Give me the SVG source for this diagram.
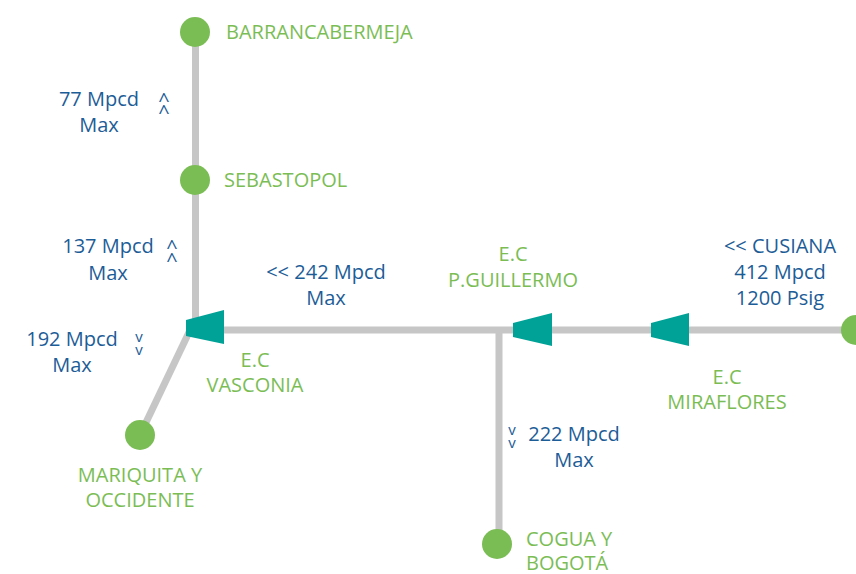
<svg xmlns="http://www.w3.org/2000/svg" width="856" height="574" viewBox="0 0 856 574">
<style>
.pipe{stroke:#c6c6c6;stroke-width:7;fill:none}
.valve{fill:#00a196}
.node{fill:#7bbd55}
.b{font-family:"Open Sans","Noto Sans",sans-serif;font-size:20px;fill:#1d5d97;text-anchor:middle}
.g{font-family:"Open Sans","Noto Sans",sans-serif;font-size:20px;fill:#7bbd55}
.gm{text-anchor:middle}
.up{font-family:"Open Sans","Noto Sans",sans-serif;font-size:20px;fill:#1d5d97;text-anchor:middle}
.dn{font-family:"Open Sans","Noto Sans",sans-serif;font-size:15px;fill:#1d5d97;text-anchor:middle}
</style>
<rect width="856" height="574" fill="#ffffff"/>
<g id="connectors">
<line class="pipe" x1="195.5" y1="32" x2="195.5" y2="330"/>
<line class="pipe" x1="195" y1="330" x2="856" y2="330"/>
<line class="pipe" x1="499" y1="330" x2="499" y2="544"/>
<line class="pipe" x1="192" y1="326" x2="140" y2="435"/>
</g>
<g id="barrancabermeja">
<circle class="node" cx="195" cy="32" r="15"/>
<text class="g" x="226" y="39">BARRANCABERMEJA</text>
</g>
<g id="sebastopol">
<circle class="node" cx="195" cy="180" r="15"/>
<text class="g" x="224" y="187">SEBASTOPOL</text>
</g>
<g id="mariquita">
<circle class="node" cx="140" cy="435" r="15"/>
<text class="g gm" x="140" y="482">MARIQUITA Y</text>
<text class="g gm" x="140" y="507">OCCIDENTE</text>
</g>
<g id="cogua">
<circle class="node" cx="497" cy="544" r="15"/>
<text class="g" x="526" y="546">COGUA Y</text>
<text class="g" x="526" y="570">BOGOTÁ</text>
</g>
<g id="cusiana">
<circle class="node" cx="856" cy="330" r="15"/>
<text class="b" x="780" y="253">&lt;&lt; CUSIANA</text>
<text class="b" x="780" y="279">412 Mpcd</text>
<text class="b" x="780" y="305">1200 Psig</text>
</g>
<g id="ec-vasconia">
<polygon class="valve" points="186,320 224,310 224,344 186,336"/>
<text class="g gm" x="255" y="367">E.C</text>
<text class="g gm" x="255" y="392">VASCONIA</text>
</g>
<g id="ec-pguillermo">
<polygon class="valve" points="513,323 552,313 552,346 513,337"/>
<text class="g gm" x="513" y="261">E.C</text>
<text class="g gm" x="513" y="287">P.GUILLERMO</text>
</g>
<g id="ec-miraflores">
<polygon class="valve" points="651,323 689,313 689,346 651,337"/>
<text class="g gm" x="727" y="384">E.C</text>
<text class="g gm" x="727" y="409">MIRAFLORES</text>
</g>
<g id="labels">
<text class="b" x="99" y="106">77 Mpcd</text>
<text class="b" x="99" y="132">Max</text>
<text class="up"><tspan x="164" y="107">^</tspan><tspan x="164" y="119">^</tspan></text>
<text class="b" x="108" y="253">137 Mpcd</text>
<text class="b" x="108" y="280">Max</text>
<text class="up"><tspan x="172" y="254">^</tspan><tspan x="172" y="267">^</tspan></text>
<text class="b" x="72" y="346">192 Mpcd</text>
<text class="b" x="72" y="372">Max</text>
<text class="dn"><tspan x="139" y="342">v</tspan><tspan x="139" y="355">v</tspan></text>
<text class="b" x="326" y="279">&lt;&lt; 242 Mpcd</text>
<text class="b" x="326" y="305">Max</text>
<text class="dn"><tspan x="512" y="435">v</tspan><tspan x="512" y="448">v</tspan></text>
<text class="b" x="574" y="441">222 Mpcd</text>
<text class="b" x="574" y="467">Max</text>
</g>
</svg>
